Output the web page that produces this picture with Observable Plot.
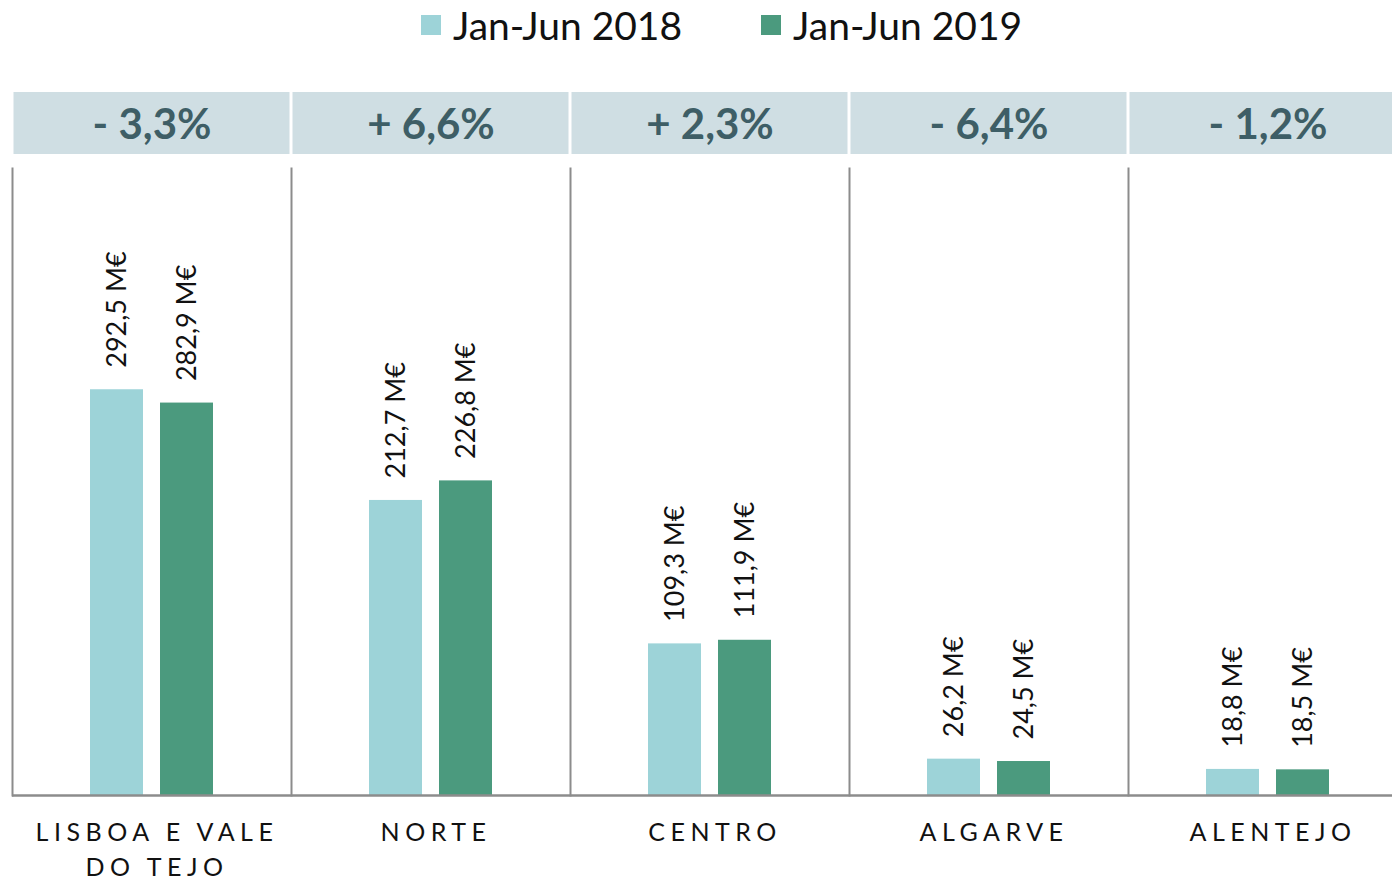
<!DOCTYPE html>
<html><head><meta charset="utf-8">
<script src="https://cdn.jsdelivr.net/npm/d3@7"></script>
<script src="https://cdn.jsdelivr.net/npm/@observablehq/plot@0.6"></script>
<style>
html,body{margin:0;padding:0;background:#fff;}
body{width:1392px;height:882px;overflow:hidden;font-family:Lato,"DejaVu Sans",sans-serif;}
#legend{height:92px;box-sizing:border-box;padding-top:2px;display:flex;align-items:flex-start;}
.item{display:flex;align-items:center;font-size:39px;color:#111;line-height:46px;}
.sw{width:20px;height:20px;margin-right:12px;}
#header,#chart{width:1392px;overflow:hidden;}
#header svg,#chart svg{display:block;max-width:none !important;}
</style></head><body>
<div id="legend"></div>
<div id="header"></div>
<div id="chart"></div>
<script>
const regions = ["LISBOA E VALE\nDO TEJO", "NORTE", "CENTRO", "ALGARVE", "ALENTEJO"];
const years = ["Jan-Jun 2018", "Jan-Jun 2019"];
const values2018 = [292.5, 212.7, 109.3, 26.2, 18.8];
const values2019 = [282.9, 226.8, 111.9, 24.5, 18.5];
const changes = ["- 3,3%", "+ 6,6%", "+ 2,3%", "- 6,4%", "- 1,2%"];
const colors = ["#9dd3d8", "#4b9a7e"];

const data = [];
regions.forEach((r, i) => {
  data.push({region: r, year: years[0], value: values2018[i]});
  data.push({region: r, year: years[1], value: values2019[i]});
});
const fmt = v => v.toFixed(1).replace(".", ",") + " M€";

// legend
const legend = document.getElementById("legend");
legend.style.paddingLeft = "421px";
years.forEach((y, i) => {
  const it = document.createElement("div");
  it.className = "item";
  if (i > 0) it.style.marginLeft = "79px";
  it.innerHTML = `<span class="sw" style="background:${colors[i]}"></span><span>${y}</span>`;
  legend.appendChild(it);
});

// header row
const header = Plot.plot({
  width: 1407, height: 62,
  marginLeft: 12, marginRight: 0, marginTop: 0, marginBottom: 0,
  style: {fontFamily: "Lato, 'DejaVu Sans', sans-serif", background: "transparent", maxWidth: "none"},
  x: {domain: regions, padding: 0, axis: null},
  marks: [
    Plot.cell(regions, {x: d => d, fill: "#cfdee3", insetLeft: 1.5, insetRight: 1.5}),
    Plot.text(regions, {x: d => d, text: (d, i) => changes[i], fontSize: 42, fontWeight: "bold", fill: "#3e5e66", dy: 2})
  ]
});
document.getElementById("header").appendChild(header);

// main chart
const chart = Plot.plot({
  width: 1407, height: 728,
  marginLeft: 12, marginRight: 0, marginTop: 14, marginBottom: 87,
  style: {fontFamily: "Lato, 'DejaVu Sans', sans-serif", background: "transparent", maxWidth: "none"},
  fx: {domain: regions, padding: 0, axis: null},
  x: {domain: years, paddingInner: 0.243, paddingOuter: 1.114, axis: null},
  y: {domain: [0, 452], axis: null},
  color: {domain: years, range: colors},
  marks: [
    Plot.frame({anchor: "left", stroke: "#8c8c8c", strokeWidth: 2}),
    Plot.barY(data, {fx: "region", x: "year", y: "value", fill: "year"}),
    Plot.ruleY([0], {stroke: "#8c8c8c", strokeWidth: 2.5}),
    Plot.text(data, {fx: "region", x: "year", y: "value", text: d => fmt(d.value), rotate: -90, textAnchor: "start", dy: -22, fontSize: 27, fill: "#111"}),
    Plot.text(regions, {fx: d => d, text: d => d, frameAnchor: "bottom", lineAnchor: "top", dx: 5, dy: 21, fontSize: 25, lineHeight: 1.4, fill: "#111"})
  ]
});
document.getElementById("chart").appendChild(chart);
const flat = regions.map(r => r.replace("\n", ""));
d3.select(chart).selectAll("text").filter(function() {
  return flat.includes(this.textContent);
}).style("letter-spacing", "5.5px");
</script>
</body></html>
